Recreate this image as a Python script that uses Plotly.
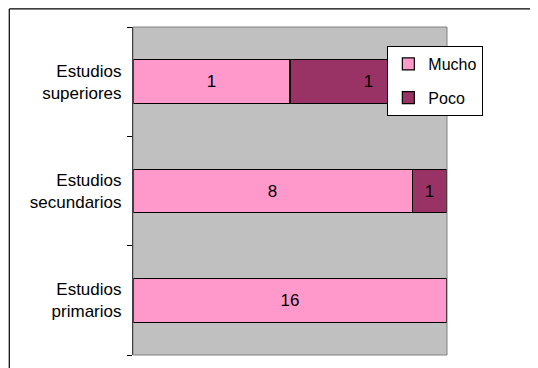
import plotly.graph_objects as go

niveles = ["Estudios<br>primarios", "Estudios<br>secundarios", "Estudios<br>superiores"]
mucho = [16, 8, 1]
poco = [0, 1, 1]

fuente = "Liberation Sans, Arial, sans-serif"

fig = go.Figure()
fig.add_trace(go.Bar(
    y=niveles, x=mucho, name="Mucho", orientation="h",
    marker=dict(color="#FF99CC", line=dict(color="black", width=1.2)),
    text=[str(v) if v else "" for v in mucho], texttemplate="%{text}",
    textposition="inside", insidetextanchor="middle", textangle=0,
    legendgroup="a",
))
fig.add_trace(go.Bar(
    y=niveles, x=poco, name="Poco", orientation="h",
    marker=dict(color="#993366", line=dict(color="black", width=1.2)),
    text=[str(v) if v else "" for v in poco], texttemplate="%{text}",
    textposition="inside", insidetextanchor="middle", textangle=0,
    legendgroup="b",
))

fig.update_traces(textfont=dict(family=fuente, size=17, color="black"),
                  constraintext="none", hoverinfo="skip")

# la página deja 8 px de margen: figura de 530x360
fig.update_layout(
    width=530, height=360,
    margin=dict(l=125, r=91, t=19, b=13),
    barmode="stack", barnorm="percent", bargap=0.6,
    plot_bgcolor="#C0C0C0", paper_bgcolor="white",
    font=dict(family=fuente, size=17, color="black"),
    showlegend=True,
    legend=dict(x=0.81, y=0.942, xanchor="left", yanchor="top",
                bgcolor="white", bordercolor="black", borderwidth=1,
                traceorder="grouped", tracegroupgap=10,
                font=dict(size=16), itemwidth=30),
    shapes=[
        dict(type="rect", xref="paper", yref="paper", x0=0, x1=1, y0=0, y1=1,
             line=dict(color="#808080", width=1), layer="above"),
        # marco exterior del gráfico
        dict(type="line", xref="paper", yref="paper", x0=-0.394, x1=-0.394, y0=-0.2, y1=1.055,
             line=dict(color="black", width=1.2)),
        dict(type="line", xref="paper", yref="paper", x0=-0.394, x1=1.4, y0=1.055, y1=1.055,
             line=dict(color="black", width=1.2)),
    ],
)
fig.update_xaxes(visible=False, range=[0, 100])
fig.update_yaxes(showline=True, linecolor="black", linewidth=1.2,
                 ticks="outside", ticklen=5, tickcolor="black", tickson="boundaries",
                 showgrid=False, tickfont=dict(size=17), ticklabelstandoff=7)

fig.write_html("out.html", config={"displayModeBar": False})
